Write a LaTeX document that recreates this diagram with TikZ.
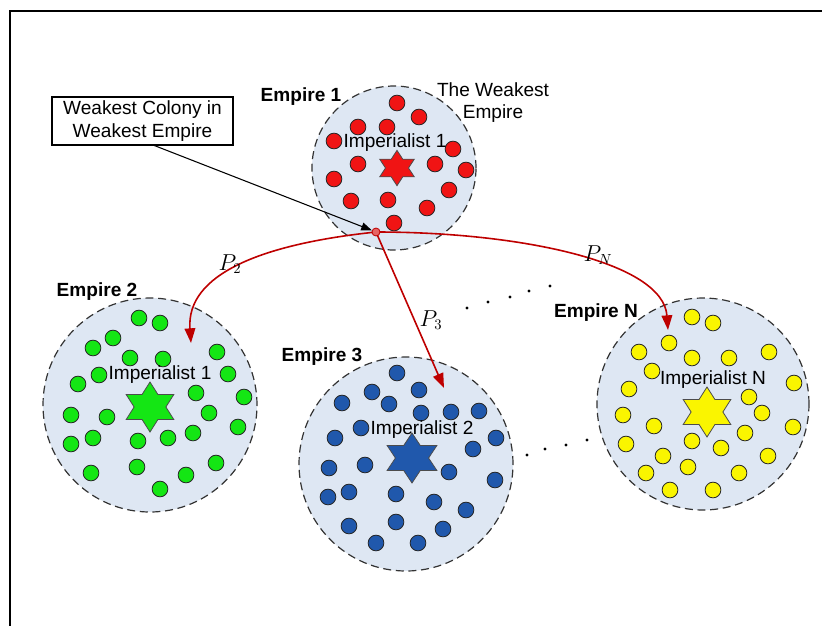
\documentclass[tikz,border=0pt]{standalone}
\usepackage{fontspec}
\setmainfont{Liberation Sans}
\usetikzlibrary{shapes.geometric,arrows.meta}
\definecolor{empfill}{RGB}{222,231,243}
\definecolor{cred}{RGB}{240,20,20}
\definecolor{cgreen}{RGB}{20,230,20}
\definecolor{cblue}{RGB}{32,88,172}
\definecolor{cyellow}{RGB}{250,245,0}
\definecolor{arrred}{RGB}{190,0,0}
\definecolor{jfill}{RGB}{230,100,100}
\tikzset{
  empire/.style={circle, draw=black!80, fill=empfill, dashed, dash pattern=on 6pt off 3.5pt, line width=0.9pt, inner sep=0pt},
  colony/.style={draw=black!85, line width=0.6pt},
  impstar/.style={star, star points=6, star point ratio=1.732, inner sep=0pt, draw=black!70, line width=0.6pt},
  lbl/.style={font=\fontsize{14.3}{16.5}\selectfont, inner sep=0pt, align=center},
  blbl/.style={font=\fontsize{14.3}{16.5}\selectfont\bfseries, inner sep=0pt},
  plbl/.style={font=\fontsize{16}{18}\selectfont, inner sep=0pt},
  redarrow/.style={draw=arrred, line width=1.2pt, -{Triangle[length=11pt,width=8pt]}},
  blackarrow/.style={draw=black, line width=0.8pt, -{Triangle[length=8pt,width=6pt]}},
  junction/.style={circle, draw=arrred, fill=jfill, line width=0.6pt, minimum size=6pt, inner sep=0pt},
  dotmark/.style={fill=black},
  callout/.style={draw=black, line width=0.8pt, minimum width=135.75pt, minimum height=36pt, align=center, inner sep=0pt, font=\fontsize{14.3}{17.2}\selectfont}
}
\begin{document}
\begin{tikzpicture}[x=0.75pt,y=-0.75pt]
\useasboundingbox (0,0) rectangle (822,626);
\draw[line width=1.5pt] (822,11) -- (9.5,11) -- (9.5,626);

% empires
\node[empire, minimum size=123pt] (e1) at (394,168) {};
\node[empire, minimum size=160.5pt] (e2) at (150,405) {};
\node[empire, minimum size=160.5pt] (e3) at (406,464) {};
\node[empire, minimum size=159pt] (eN) at (703,404) {};

% colonies
\foreach \x/\y in {397/103,419/117,358/127,387/127,334/141,453/149,358/164,435/164,466/170,334/179,449/190,351/201,388/200,427/208,394/223}
  \draw[colony, fill=cred] (\x,\y) circle[radius=5.9pt];
\foreach \x/\y in {139/318,160/323,113/338,93/348,130/358,163/359,217/352,99/375,228/374,78/384,196/393,244/397,71/415,107/417,209/413,238/427,93/438,71/444,138/441,168/438,193/433,91/473,137/467,186/475,216/463,160/489}
  \draw[colony, fill=cgreen] (\x,\y) circle[radius=5.9pt];
\foreach \x/\y in {397/373,419/390,372/392,342/403,389/404,421/413,451/412,479/411,361/428,335/438,496/438,473/449,329/468,365/465,449/472,495/480,349/492,328/497,396/494,434/502,466/510,396/522,349/526,443/529,376/543,418/543}
  \draw[colony, fill=cblue] (\x,\y) circle[radius=5.9pt];
\foreach \x/\y in {692/317,713/323,669/343,639/352,692/358,729/358,769/352,652/371,629/389,794/383,749/397,762/413,623/415,654/426,793/427,745/433,626/444,692/441,721/448,663/456,768/456,688/467,646/473,739/473,670/490,713/490}
  \draw[colony, fill=cyellow] (\x,\y) circle[radius=5.9pt];

% imperialists
\node[impstar, fill=cred, minimum size=26.5pt, xscale=1.13] (s1) at (397,168) {};
\node[impstar, fill=cgreen, minimum size=37.5pt, xscale=1.1] (s2) at (150,407) {};
\node[impstar, fill=cblue, minimum size=37.5pt, xscale=1.15] (s3) at (412,458) {};
\node[impstar, fill=cyellow, minimum size=37.5pt, xscale=1.1] (sN) at (707,412) {};

% labels
\node[lbl] (i1) at (395,143) {Imperialist 1};
\node[lbl] (i2) at (160,375) {Imperialist 1};
\node[lbl] (i3) at (422,430) {Imperialist 2};
\node[lbl] (iN) at (713,380) {Imperialist N};
\node[blbl] (l1) at (301,97) {Empire 1};
\node[blbl] (l2) at (97,292) {Empire 2};
\node[blbl] (l3) at (322,357) {Empire 3};
\node[blbl] (lN) at (596,313) {Empire N};
\node[lbl] (weak) at (493,103) {The Weakest\\Empire};
\node[callout] (box) at (142.5,121) {Weakest Colony in\\Weakest Empire};

% dots
\foreach \x/\y in {467/308,488/302,510/297,529/291,550/286}
  \fill[dotmark] (\x,\y) circle[radius=1.2pt];
\foreach \x/\y in {527/455,545/449,566/445,587/440}
  \fill[dotmark] (\x,\y) circle[radius=1.2pt];

% arrows
\coordinate (j) at (376,232);
\coordinate (t2) at (191,343);
\coordinate (t3) at (444,388);
\coordinate (tN) at (668,330);
\coordinate (bstart) at (153,145);
\draw[redarrow] (j) .. controls (262,244) and (186,274) .. (t2);
\draw[redarrow] (j) -- (t3);
\draw[redarrow] (j) .. controls (520,232) and (663,262) .. (tN);
\node[junction] (pt) at (j) {};
\draw[blackarrow] (bstart) -- (pt);

\node[plbl] (p2) at (230,264) {$P_2$};
\node[plbl] (p3) at (431,320) {$P_3$};
\node[plbl] (pN) at (598,255) {$P_N$};
\end{tikzpicture}
\end{document}
